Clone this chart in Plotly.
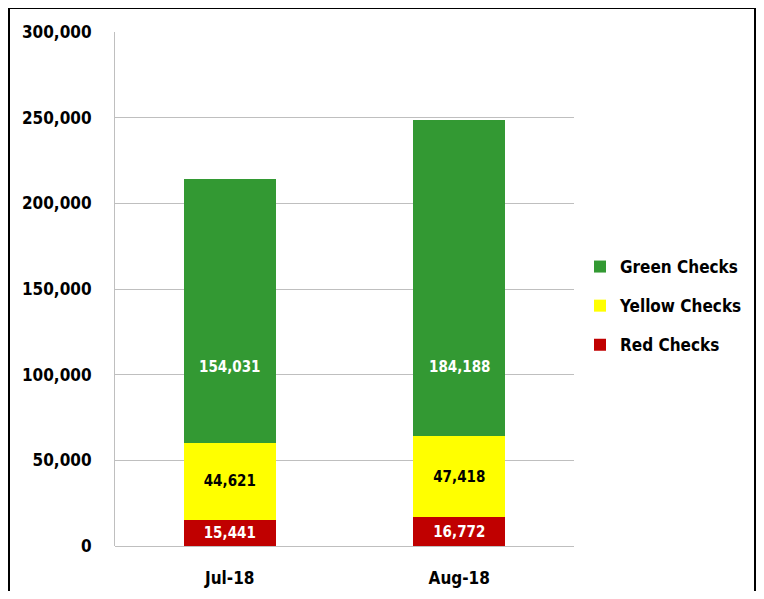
import plotly.graph_objects as go

categories = ["Jul-18", "Aug-18"]
red_checks = [15441, 16772]
yellow_checks = [44621, 47418]
green_checks = [154031, 184188]
tick_vals = [0, 50000, 100000, 150000, 200000, 250000, 300000]
green_label_level = 104500  # value level where the green labels sit in the original

FONT = "DejaVu Sans Condensed, DejaVu Sans, sans-serif"

fig = go.Figure()
series = [
    ("Red Checks", red_checks, "#C00000", "white", 3, True),
    ("Yellow Checks", yellow_checks, "#FFFF00", "black", 2, True),
    ("Green Checks", green_checks, "#339933", "white", 1, False),
]
for name, vals, color, tcolor, rank, show_text in series:
    fig.add_trace(go.Bar(
        x=categories, y=vals, name=name, legendrank=rank, legendgroup=name,
        marker=dict(color=color, line=dict(width=0)),
        text=[f"{v:,}" for v in vals] if show_text else None,
        textposition="inside" if show_text else "none",
        insidetextanchor="middle",
        textfont=dict(family=FONT, size=15, color=tcolor, weight="bold"),
        constraintext="none",
    ))

for cat, v in zip(categories, green_checks):
    fig.add_annotation(
        x=cat, y=green_label_level, text=f"{v:,}", showarrow=False,
        font=dict(family=FONT, size=15, color="white", weight="bold"),
    )

# the page body has an 8px margin: figure coordinates = page coordinates - 8
W, H = 748, 583
L, T = 107, 24
R = W - 566
B = H - 538
pw = W - L - R
ph = H - T - B

fig.update_layout(
    width=W, height=H,
    barmode="stack", bargap=0.6,
    plot_bgcolor="white", paper_bgcolor="white",
    margin=dict(l=L, r=R, t=T, b=B, pad=0, autoexpand=False),
    font=dict(family=FONT, color="black"),
    showlegend=True,
    legend=dict(
        traceorder="grouped", tracegroupgap=14,
        x=(572 - L) / pw, y=(538 - 241) / ph, xanchor="left", yanchor="top",
        font=dict(family=FONT, size=17, color="black", weight="bold"),
        bgcolor="rgba(0,0,0,0)",
    ),
    xaxis=dict(
        automargin=False,
        showgrid=False, showline=False,
        ticks="outside", ticklen=17, tickcolor="rgba(0,0,0,0)",
        tickfont=dict(family=FONT, size=17, color="black", weight="bold"),
    ),
    yaxis=dict(
        automargin=False,
        range=[0, 300000], tickvals=tick_vals,
        tickformat=",", showgrid=True, gridcolor="#BFBFBF", gridwidth=1,
        zeroline=True, zerolinecolor="#BFBFBF", zerolinewidth=1,
        showline=True, linecolor="#BFBFBF", linewidth=1,
        tickfont=dict(family=FONT, size=17, color="black", weight="bold"),
        ticks="outside", ticklen=19, tickcolor="rgba(0,0,0,0)",
    ),
    shapes=[dict(
        type="rect", xref="paper", yref="paper",
        x0=(1 - L) / pw, x1=(747 - L) / pw,
        y0=(538 - 640) / ph, y1=(538 - 0) / ph,
        line=dict(color="black", width=2), fillcolor="rgba(0,0,0,0)",
        layer="below",
    )],
)

fig.write_html("out.html")
